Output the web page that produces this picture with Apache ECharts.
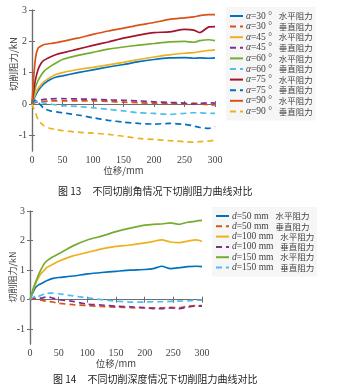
<!DOCTYPE html>
<html><head><meta charset="utf-8">
<script src="https://cdn.jsdelivr.net/npm/echarts@6/dist/echarts.min.js"></script>
<style>html,body{margin:0;padding:0;background:#fff}#c{width:337px;height:391px}</style>
</head><body><div id="c"></div>
<script>
// ---------- Figure 13 data ----------
const xs1 = [0,3,6,10,15,20,30,40,50,75,100,125,150,175,200,225,250,265,275,290,300];
const a30H = [0,0.15,0.28,0.42,0.55,0.65,0.78,0.86,0.9,1.0,1.09,1.18,1.26,1.35,1.42,1.47,1.48,1.46,1.47,1.46,1.47];
const a30V = [0,0.03,0.05,0.06,0.08,0.08,0.1,0.1,0.1,0.1,0.1,0.08,0.06,0.04,0.02,0.01,0.0,0.03,0.0,-0.02,-0.03];
const a45H = [0,0.2,0.35,0.5,0.62,0.72,0.85,0.95,1.0,1.1,1.17,1.25,1.33,1.42,1.5,1.57,1.62,1.64,1.67,1.71,1.73];
const a45V = [0,0.05,0.08,0.1,0.13,0.15,0.16,0.17,0.17,0.16,0.15,0.13,0.12,0.1,0.07,0.05,0.03,0.0,0.02,0.04,0.03];
const a60H = [0,0.3,0.55,0.75,0.92,1.05,1.2,1.32,1.42,1.55,1.65,1.75,1.82,1.88,1.93,1.98,2.0,1.97,2.02,2.05,2.02];
const a60V = [0,0.05,0.08,0.08,0.05,0.03,0.0,-0.03,-0.05,-0.08,-0.12,-0.17,-0.22,-0.28,-0.3,-0.33,-0.3,-0.28,-0.28,-0.3,-0.3];
const a75H = [0,0.45,0.8,1.1,1.3,1.4,1.5,1.58,1.63,1.75,1.87,1.98,2.1,2.2,2.28,2.3,2.38,2.36,2.28,2.46,2.47];
const a75V = [0,0.1,0.12,0.05,-0.05,-0.15,-0.22,-0.25,-0.28,-0.35,-0.44,-0.52,-0.58,-0.62,-0.64,-0.62,-0.65,-0.7,-0.75,-0.78,-0.72];
const a90H = [0,0.9,1.5,1.78,1.85,1.9,1.93,1.96,2.0,2.1,2.22,2.33,2.42,2.52,2.6,2.7,2.75,2.78,2.82,2.85,2.85];
const a90V = [0,-0.15,-0.3,-0.5,-0.62,-0.7,-0.78,-0.82,-0.85,-0.9,-0.93,-0.97,-1.03,-1.1,-1.13,-1.17,-1.2,-1.22,-1.2,-1.18,-1.15];
const names1 = ['α=30 °  水平阻力','α=30 °  垂直阻力','α=45 °  水平阻力','α=45 °  垂直阻力','α=60 °  水平阻力','α=60 °  垂直阻力','α=75 °  水平阻力','α=75 °  垂直阻力','α=90 °  水平阻力','α=90 °  垂直阻力'];
const vals1 = [a30H,a30V,a45H,a45V,a60H,a60V,a75H,a75V,a90H,a90V];

// ---------- Figure 14 data ----------
const xs2 = [0,3,6,10,15,20,25,30,40,50,75,100,125,150,175,200,215,230,245,260,275,290,300];
const d50H  = [0,0.15,0.28,0.42,0.5,0.55,0.6,0.65,0.72,0.75,0.8,0.87,0.92,0.96,1.0,1.02,1.05,1.13,1.05,1.08,1.12,1.13,1.12];
const d50V  = [0,0.01,0.02,0.02,0.0,-0.02,-0.04,-0.06,-0.08,-0.12,-0.17,-0.2,-0.23,-0.25,-0.27,-0.28,-0.28,-0.28,-0.26,-0.28,-0.22,-0.2,-0.2];
const d100H = [0,0.18,0.35,0.55,0.75,0.9,1.0,1.1,1.2,1.3,1.48,1.6,1.72,1.8,1.85,1.92,1.97,2.02,1.95,1.93,1.98,2.02,1.97];
const d100V = [0,0.02,0.04,0.05,0.05,0.05,0.08,0.1,0.05,0.0,-0.06,-0.15,-0.18,-0.22,-0.24,-0.27,-0.3,-0.3,-0.28,-0.3,-0.25,-0.22,-0.22];
const d150H = [0,0.2,0.4,0.6,0.85,1.05,1.22,1.32,1.45,1.55,1.82,2.02,2.15,2.3,2.42,2.52,2.55,2.56,2.6,2.55,2.62,2.66,2.68];
const d150V = [0,0.05,0.08,0.15,0.12,0.15,0.2,0.22,0.22,0.2,0.13,0.06,0.0,-0.05,-0.08,-0.08,-0.07,-0.07,-0.06,-0.05,-0.04,-0.02,-0.02];
const names2 = ['d=50 mm  水平阻力','d=50 mm  垂直阻力','d=100 mm  水平阻力','d=100 mm  垂直阻力','d=150 mm  水平阻力','d=150 mm  垂直阻力'];
const vals2 = [d50H,d50V,d100H,d100V,d150H,d150V];

// ---------- axes ----------
const xTicks = [0,50,100,150,200,250,300];
const yTicks = [-1,0,1,2,3];
const colors = ['#0072BD','#D95319','#EDB120','#7E2F8E','#77AC30','#4DBEEE','#A2142F','#0072BD','#D95319','#EDB120'];

const serif = 'Liberation Serif';
const cjk = 'Noto Sans CJK SC';
const frame = '#6e6e6e';

function mkX(gi, top){
  return {type:'value', gridIndex:gi, min:0, max:300, interval:50, position: top?'top':'bottom',
    axisLine:{show:true, lineStyle:{color:frame, width:1.2}},
    axisTick:{show:true, inside:true, length:3, lineStyle:{color:frame}},
    axisLabel:{show:!top, color:'#444', fontFamily:serif, fontSize:10, margin:4},
    splitLine:{show:false},
    name: top?'':'位移/mm', nameLocation:'middle', nameGap:15,
    nameTextStyle:{color:'#444', fontFamily:cjk, fontSize:9.5}};
}
function mkY(gi, right){
  return {type:'value', gridIndex:gi, min:-1.5, max:3, position: right?'right':'left',
    axisLine:{show:true, lineStyle:{color:frame, width:1.2}},
    axisTick:{show:true, inside:true, length:3, customValues:yTicks, lineStyle:{color:frame}},
    axisLabel:{show:!right, customValues:yTicks, color:'#444', fontFamily:serif, fontSize:10, margin:5},
    splitLine:{show:false}};
}

function buildSeries(names, vals, xs, axisIdx){
  return names.map((n,i)=>({
    name:n, type:'line', xAxisIndex:axisIdx, yAxisIndex:axisIdx, symbol:'none',
    smooth:0.2, animation:false,
    data: xs.map((x,k)=>[x, vals[i][k]]),
    lineStyle:{color:colors[i], width:1.7, type: (i%2===1)?[6,4]:'solid'},
    itemStyle:{color:colors[i]}
  }));
}

function fmt(n){
  const m = n.match(/^(α|d)=(.*?)\s\s(.*)$/);
  return '{i|'+m[1]+'}{n|='+m[2]+'}  {c|'+m[3]+'}';
}
const rich = {
  i:{fontStyle:'italic', fontFamily:serif, fontSize:9.5, color:'#444', lineHeight:8},
  n:{fontFamily:serif, fontSize:9.5, color:'#444', lineHeight:8},
  c:{fontFamily:cjk, fontSize:8.5, color:'#444', lineHeight:8}
};
const legendCommon = {orient:'vertical', itemWidth:13, itemHeight:8, padding:[3,3],
  backgroundColor:'#f6f6f6', formatter:fmt, itemStyle:{opacity:0},
  textStyle:{rich:rich, lineHeight:8, padding:[0,0,0,-2]}};

const chart = echarts.init(document.getElementById('c'), null, {renderer:'canvas'});
chart.setOption({
  backgroundColor:'#fff',
  animation:false,
  grid:[
    {left:32, top:10, width:183, height:141},
    {left:30, top:211, width:172, height:133}
  ],
  xAxis:[mkX(0,false), mkX(0,true), mkX(1,false), mkX(1,true)],
  yAxis:[mkY(0,false), mkY(0,true), mkY(1,false), mkY(1,true)],
  legend:[
    Object.assign({data:names1, left:226, top:7, itemGap:-1.4}, legendCommon),
    Object.assign({data:names2, left:212, top:207, itemGap:-1.7}, legendCommon)
  ],
  graphic:[
    {type:'text', rotation:Math.PI/2, x:13, y:64, style:{text:'切削阻力/kN', fill:'#444', font:'9.5px "Noto Sans CJK SC"', align:'center', verticalAlign:'middle'}},
    {type:'text', rotation:Math.PI/2, x:13, y:277, style:{text:'切削阻力/kN', fill:'#444', font:'9px "Noto Sans CJK SC"', align:'center', verticalAlign:'middle'}},
    {type:'text', x:58, y:191, style:{text:'图 13     不同切削角情况下切削阻力曲线对比', fill:'#222', font:'10px "Noto Sans CJK SC"', verticalAlign:'middle'}},
    {type:'text', x:53, y:379, style:{text:'图 14     不同切削深度情况下切削阻力曲线对比', fill:'#222', font:'10px "Noto Sans CJK SC"', verticalAlign:'middle'}}
  ],
  series: buildSeries(names1, vals1, xs1, 0).concat(buildSeries(names2, vals2, xs2, 2))
});
</script></body></html>
